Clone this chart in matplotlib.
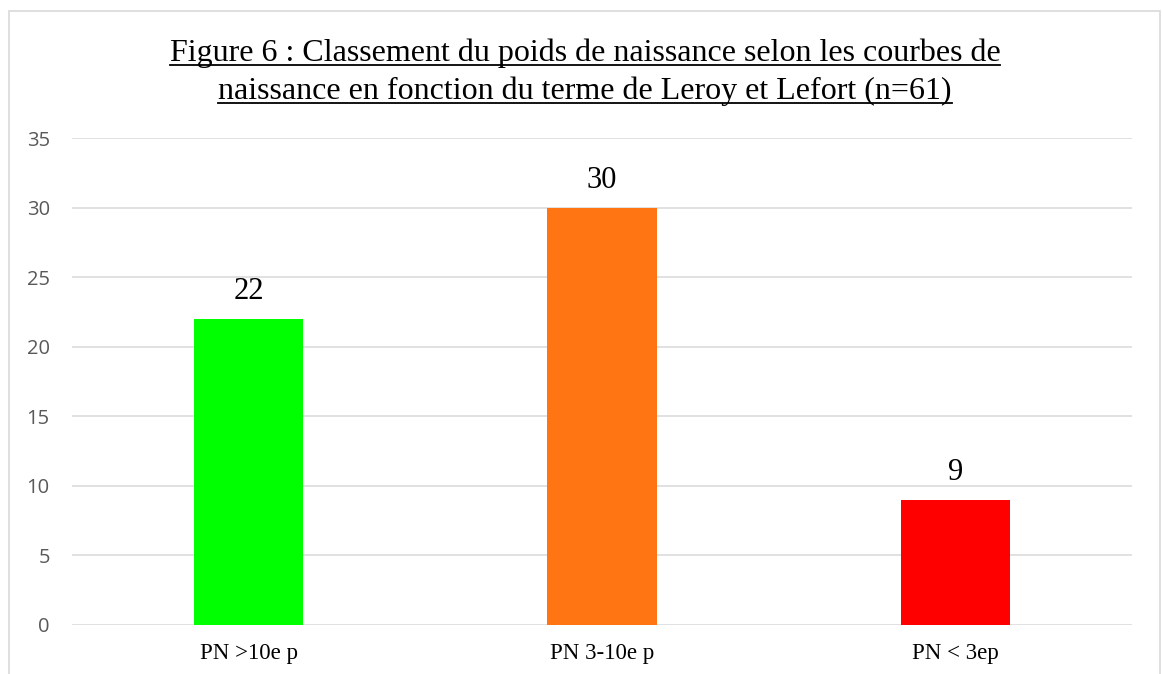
import matplotlib
matplotlib.use("Agg")
import matplotlib.pyplot as plt
from matplotlib.lines import Line2D
from matplotlib.patches import Rectangle

categories = ["PN >10e p", "PN 3-10e p", "PN < 3ep"]
counts = [22, 30, 9]
colors = ["#00ff00", "#ff7514", "#ff0000"]
yticks = [0, 5, 10, 15, 20, 25, 30, 35]
title_lines = [
    "Figure 6 : Classement du poids de naissance selon les courbes de",
    "naissance en fonction du terme de Leroy et Lefort (n=61)",
]

W, H = 1162, 674
fig = plt.figure(figsize=(W / 100, H / 100), dpi=100)
fig.patch.set_facecolor("white")

# chart frame (bottom edge is cut off in the original)
fig.add_artist(Rectangle((9 / W, -0.05), 1151 / W, 1.05 - 11 / H, transform=fig.transFigure,
                         fill=False, edgecolor="#d9d9d9", linewidth=1.2))

ax = fig.add_axes([72 / W, 49 / H, 1060 / W, 487 / H])
x = range(len(categories))
ax.bar(x, counts, width=0.31, color=colors, zorder=3)
ax.set_xlim(-0.5, len(categories) - 0.5)
ax.set_ylim(0, 35)
ax.set_yticks(yticks)
ax.grid(axis="y", color="#d9d9d9", linewidth=1.1, zorder=0)
for s in ax.spines.values():
    s.set_visible(False)
ax.tick_params(length=0)
ax.set_xticks(list(x))
ax.set_xticklabels(categories, fontfamily="Liberation Serif", fontsize=16.5, color="black")
ax.tick_params(axis="x", pad=13)
ax.tick_params(axis="y", pad=16)
for lab in ax.get_yticklabels():
    lab.set_fontfamily("Open Sans")
    lab.set_fontsize(14.5)
    lab.set_color("#595959")

for xi, v in zip(x, counts):
    ax.annotate(str(v), (xi, v), xytext=(0, 9), textcoords="offset points",
                ha="center", va="bottom", fontfamily="Liberation Serif", fontsize=22)

# underlined two-line title
texts = []
for i, line in enumerate(title_lines):
    t = fig.text(585 / W, 1 - (61 + 38 * i) / H, line, ha="center", va="baseline",
                 fontfamily="Liberation Serif", fontsize=23)
    texts.append(t)
fig.canvas.draw()
r = fig.canvas.get_renderer()
for t in texts:
    bb = t.get_window_extent(r)
    _, by = fig.transFigure.transform(t.get_position())
    yl = (by - 3.5) / H
    fig.add_artist(Line2D([bb.x0 / W, bb.x1 / W], [yl, yl], transform=fig.transFigure,
                          color="black", linewidth=1.3))

fig.savefig("out.png", dpi=100)
